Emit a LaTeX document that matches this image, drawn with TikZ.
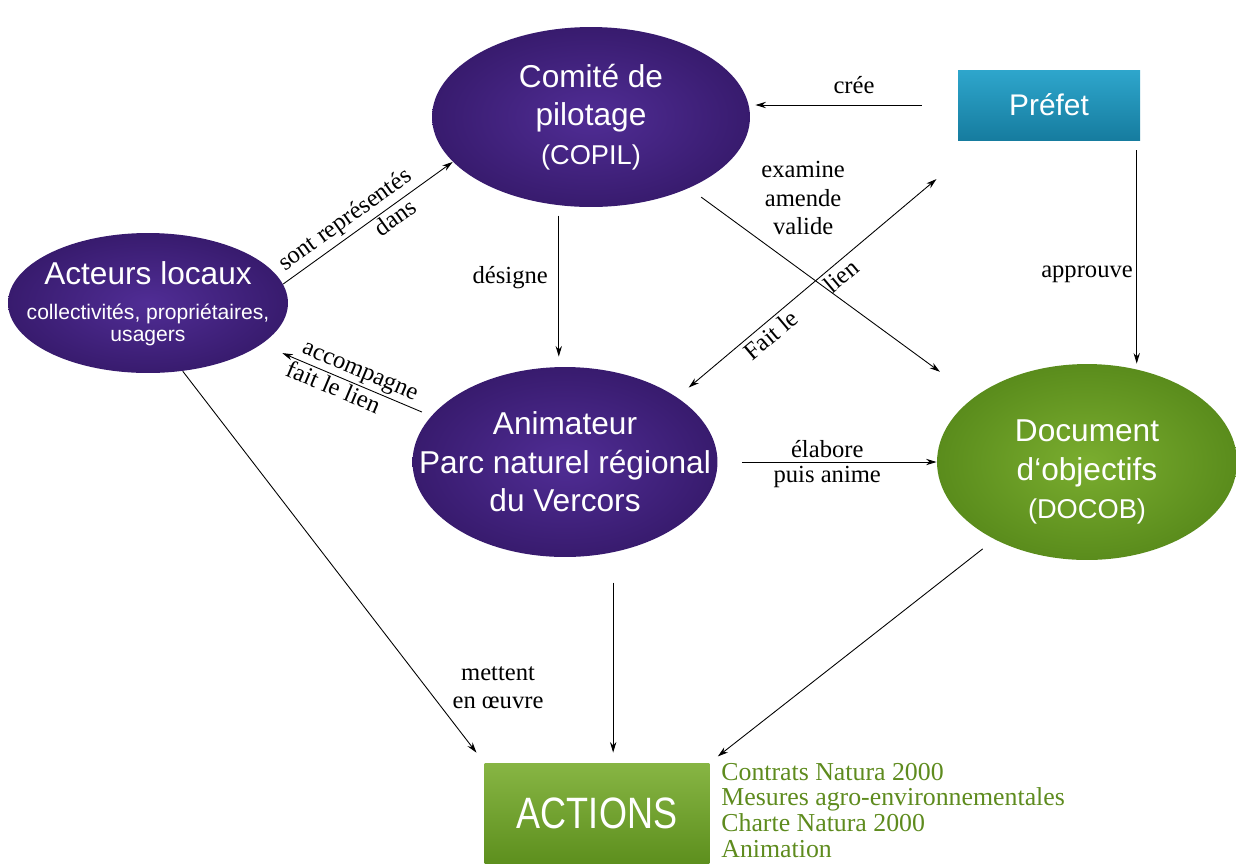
\documentclass[tikz,border=0pt]{standalone}
\usepackage{fontspec}
\setmainfont{Liberation Serif}
\setsansfont{Liberation Sans}
\newfontfamily\etroite[FakeStretch=0.82]{Liberation Sans}
\usetikzlibrary{shapes.geometric, arrows.meta}

\definecolor{violetA}{HTML}{502D95}
\definecolor{violetB}{HTML}{381B6E}
\definecolor{vertA}{HTML}{7AAD2F}
\definecolor{vertB}{HTML}{5A8C1C}
\definecolor{bleuA}{HTML}{2EA6CC}
\definecolor{bleuB}{HTML}{167C9F}
\definecolor{texteVert}{HTML}{5E8B1E}

\begin{document}
\begin{tikzpicture}[x=0.02cm, y=-0.02cm, line width=0.5pt,
  >={Stealth[length=6pt, width=3.6pt]},
  bulle/.style={ellipse, inner sep=0pt, inner color=violetA, outer color=violetB},
  bulleVerte/.style={bulle, inner color=vertA, outer color=vertB},
  texteBulle/.style={text=white, align=center, inner sep=0pt,
    font=\sffamily\fontsize{18}{22}\selectfont},
  petitBulle/.style={texteBulle, font=\sffamily\fontsize{12}{12.5}\selectfont},
  lbl/.style={font=\fontsize{14}{16}\selectfont, inner sep=2pt, align=center}]

  \useasboundingbox (0,0) rectangle (1236,863);

  % les acteurs
  \node[bulle, minimum width=6.36cm, minimum height=3.6cm,
    label={[texteBulle]center:{Comité de\\pilotage\\{\fontsize{15.5}{22}\selectfont(COPIL)}}}]
    (copil) at (591,117) {};
  \node[bulle, minimum width=5.6cm, minimum height=2.8cm,
    label={[petitBulle, yshift=-0.02cm]center:{{\fontsize{18}{22}\selectfont Acteurs locaux}\rule[-10pt]{0pt}{10pt}\\collectivités, propriétaires,\\usagers}}]
    (acteurs) at (148,303) {};
  \node[bulle, minimum width=6.1cm, minimum height=3.8cm,
    label={[texteBulle]center:{Animateur\\Parc naturel régional\\du Vercors}}]
    (anim) at (565,462) {};
  \node[bulleVerte, minimum width=6.0cm, minimum height=3.92cm,
    label={[texteBulle, yshift=-0.2cm]center:{Document\\d‘objectifs\\{\fontsize{15.5}{22}\selectfont(DOCOB)}}}]
    (doc) at (1087,462) {};
  \node[rectangle, minimum width=3.64cm, minimum height=1.4cm, top color=bleuA,
    bottom color=bleuB, text=white, font=\sffamily\fontsize{17}{20}\selectfont]
    (prefet) at (1049,105) {Préfet};
  \node[rectangle, minimum width=4.5cm, minimum height=2.0cm, top color=vertA!90!white,
    bottom color=vertB!90!vertA, text=white, font=\etroite\fontsize{25}{28}\selectfont]
    (actions) at (597,813) {ACTIONS};
  \node[anchor=north west, inner sep=0pt, align=left, text=texteVert,
    font=\fontsize{14.7}{14.6}\selectfont] (liste) at ([xshift=0.22cm]actions.north east)
    {Contrats Natura 2000\\Mesures agro-environnementales\\Charte Natura 2000\\Animation};

  % les liens
  \draw[->, shorten <=0.72cm, shorten >=0.1cm] (prefet.west) -- (prefet.west -| copil.east)
    node[lbl, midway, above=4pt] {crée};
  \draw[->, shorten <=0.2cm] (prefet.-22) -- (prefet.-22 |- doc.north)
    node[lbl, left, pos=0.6] {approuve};
  \draw[->] (acteurs.8) -- (copil.198)
    node[lbl, sloped, above, pos=0.42] {sont représentés}
    node[lbl, sloped, below, pos=0.62, inner sep=1pt] {dans};
  \draw[->, shorten <=0.2cm, shorten >=0.2cm] (copil.250) -- (copil.250 |- anim.north)
    node[lbl, left=4pt, pos=0.45] {désigne};
  \draw[->, shorten <=0.3cm, shorten >=0.85cm] (copil.-36) -- (doc.150)
    node[lbl, pos=0.24, anchor=south west] {examine\\amende\\valide};
  \draw[<->, shorten <=0.3cm, shorten >=1.2cm] (anim.30) -- (prefet.208)
    node[lbl, sloped, below, pos=0.28] {Fait le}
    node[lbl, sloped, below, pos=0.51] {lien};
  \draw[<-, shorten <=0.45cm, shorten >=0.2cm] (acteurs.-20) -- (anim.161)
    node[lbl, sloped, above, pos=0.55, inner sep=1pt] {accompagne}
    node[lbl, sloped, below, pos=0.45, inner sep=1pt] {fait le lien};
  \draw[->, shorten <=0.48cm] (anim.east) -- (anim.east -| doc.west)
    node[lbl, midway, above] {élabore}
    node[lbl, midway, below] {puis anime};
  \draw[->, shorten >=0.25cm] (acteurs.-63) -- (actions.north west);
  \draw[->, shorten <=0.6cm, shorten >=0.2cm] (anim.-62) -- (anim.-62 |- actions.north);
  \draw[->, shorten <=0.3cm, shorten >=0.2cm] (doc.220) -- (actions.north east);
  \node[lbl] (mettent) at (498,688) {mettent\\en œuvre};
\end{tikzpicture}
\end{document}
